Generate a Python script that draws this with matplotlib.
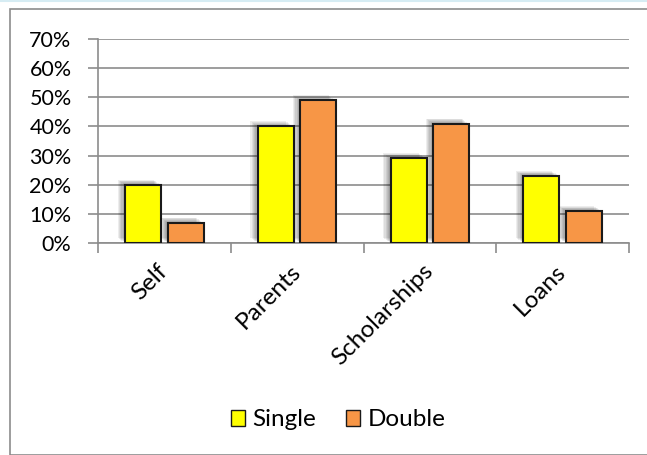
import numpy as np
import matplotlib
matplotlib.use('Agg')
import matplotlib.pyplot as plt
import matplotlib.patheffects as pe
import matplotlib.transforms as mtransforms
from matplotlib.patches import Rectangle, Patch
from matplotlib.lines import Line2D

categories = ['Self', 'Parents', 'Scholarships', 'Loans']
single = [20, 40, 29, 23]
double = [7, 49, 41, 11]
y_ticks = [0, 10, 20, 30, 40, 50, 60, 70]

plt.rcParams['font.family'] = ['Lato', 'DejaVu Sans']
FS_Y = 15.5
FS = 17.5

fig = plt.figure(figsize=(6.47, 4.55), dpi=100)
W, H = 647, 455

# outer chart frame and thin blue line on top
fig.patches.append(Rectangle((10 / W, 0), 1, 1 - 9 / H, transform=fig.transFigure,
                             fill=False, edgecolor='#8c8c8c', linewidth=1.2))
fig.add_artist(Line2D([0, 1], [1 - 1 / H, 1 - 1 / H], transform=fig.transFigure,
                      color='#d6ecf3', linewidth=1.5))

ax = fig.add_axes([98 / W, 1 - 243 / H, (629 - 98) / W, (243 - 39) / H])

x = np.arange(len(categories))
w = 0.27
gap = 0.05
# soft blurred shadow, up and to the left
shadow = []
for k in range(1, 7):
    shadow.append(pe.SimplePatchShadow(offset=(-k * 0.9, k * 0.6), alpha=0.07,
                                       shadow_rgbFace='#000000'))
shadow.append(pe.Normal())
ax.bar(x - w / 2 - gap / 2, single, w, color='#ffff00', edgecolor='#1a1a1a', linewidth=1.5,
       path_effects=shadow, zorder=3, label='Single')
ax.bar(x + w / 2 + gap / 2, double, w, color='#f79646', edgecolor='#1a1a1a', linewidth=1.5,
       path_effects=shadow, zorder=3, label='Double')

ax.set_xlim(-0.5, len(categories) - 0.5)
ax.set_ylim(0, 70)
ax.set_yticks(y_ticks)
ax.set_yticklabels([f'{t}%' for t in y_ticks], fontsize=FS_Y)
ax.yaxis.grid(True, color='#8c8c8c', linewidth=1.2, zorder=0)
ax.set_axisbelow(True)

ax.set_xticks(np.arange(len(categories) + 1) - 0.5, minor=False)
ax.set_xticklabels([])
ax.set_xticks(x, minor=True)
ax.set_xticklabels(categories, minor=True, rotation=45, ha='right', va='center',
                   rotation_mode='anchor', fontsize=FS)
offset = mtransforms.ScaledTranslation(8 / 100, 0, fig.dpi_scale_trans)
for lbl in ax.get_xticklabels(minor=True):
    lbl.set_transform(lbl.get_transform() + offset)
ax.tick_params(axis='x', which='minor', length=0, pad=18)
ax.tick_params(axis='x', which='major', length=7, color='#8c8c8c', width=1.2)
ax.tick_params(axis='y', length=7, color='#8c8c8c', width=1.2, pad=12)

for s in ['top', 'right']:
    ax.spines[s].set_visible(False)
for s in ['left', 'bottom']:
    ax.spines[s].set_color('#8c8c8c')
    ax.spines[s].set_linewidth(1.2)

handles = [Patch(facecolor='#ffff00', edgecolor='#1a1a1a', label='Single'),
           Patch(facecolor='#f79646', edgecolor='#1a1a1a', label='Double')]
fig.legend(handles=handles, loc='center', bbox_to_anchor=(338 / W, 1 - 420 / H), ncol=2,
           frameon=False, fontsize=FS, handlelength=0.6, handleheight=0.6,
           handletextpad=0.3, columnspacing=1.2)

fig.savefig('out.png', dpi=100)
